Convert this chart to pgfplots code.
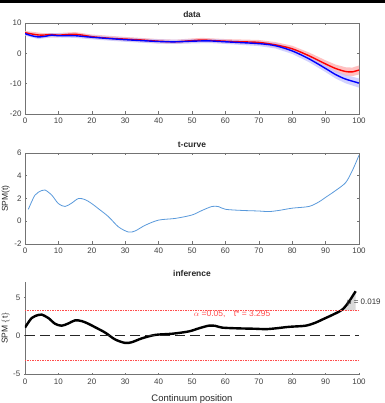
\documentclass[border=0pt]{standalone}
\usepackage{fontspec}
\setmainfont{Liberation Sans}
\usepackage{pgfplots}
\usepackage{pgfplotstable}
\pgfplotsset{compat=1.18}

\definecolor{mred}{rgb}{1,0,0}
\definecolor{mblue}{rgb}{0,0,1}
\definecolor{tblue}{rgb}{0.35,0.6,0.86}
\definecolor{thr}{rgb}{1,0.3,0.3}

\pgfplotstableread{
x m
0 6.8
3 6.2
5 6.0
8 6.2
10 6.0
15 6.3
20 5.5
25 5.0
30 4.7
35 4.4
40 4.0
45 3.8
50 4.2
53 4.4
55 4.3
60 4.0
65 3.8
70 3.6
75 2.8
80 1.5
85 -0.8
90 -3.5
93 -5.0
96 -6.0
98 -6.1
100 -5.5
}\reddata

\pgfplotstableread{
x m
0 6.5
2 5.8
4 5.4
6 5.6
8 6.0
10 5.8
15 5.8
20 5.3
30 4.5
40 3.9
45 3.8
50 4.0
55 4.1
60 3.8
70 3.2
75 2.5
80 0.8
85 -1.8
90 -5.0
93 -7.0
96 -8.5
100 -9.8
}\bluedata

% band outlines: upper edge left to right, then lower edge right to left
\pgfplotstableread{
x y
0 7.4
5 6.7
10 6.7
15 7.0
20 6.2
30 5.4
40 4.7
45 4.5
50 4.9
53 5.1
60 4.7
70 4.4
75 3.7
80 2.5
85 0.3
90 -2.3
93 -3.7
96 -4.6
98 -4.7
100 -4.0
100 -7.0
98 -7.5
96 -7.4
93 -6.3
90 -4.7
85 -1.9
80 0.5
75 1.9
70 2.8
60 3.3
53 3.7
50 3.5
45 3.1
40 3.3
30 4.0
20 4.8
15 5.6
10 5.3
5 5.3
0 6.0
}\redband

\pgfplotstableread{
x y
0 7.2
4 6.1
8 6.7
15 6.5
20 6.0
30 5.2
40 4.6
45 4.5
55 4.8
60 4.5
70 4.0
75 3.4
80 1.8
85 -0.7
90 -3.8
93 -5.7
96 -7.1
100 -8.3
100 -11.3
96 -9.9
93 -8.3
90 -6.2
85 -2.9
80 -0.2
75 1.6
70 2.4
60 3.1
55 3.4
45 3.1
40 3.2
30 3.8
20 4.6
15 5.1
8 5.3
4 4.7
0 5.8
}\blueband

\pgfplotstableread{
x t
0 1.05
2 2.3
4 2.7
5 2.75
7 2.3
9 1.55
11 1.3
13 1.6
15 2.0
17 1.9
19 1.55
21 1.1
24 0.4
27 -0.5
30 -0.95
32 -0.85
35 -0.35
39 0.1
44 0.25
49 0.55
52 0.95
55 1.3
57 1.28
59 1.05
64 0.95
69 0.9
72 0.85
75 0.95
79 1.15
84 1.3
87 1.7
89 2.1
92 2.7
95 3.4
97 4.45
99 5.8
}\tdata

\pgfplotstableread{
x y
94.35 3.295
95 3.4
96 3.88
97 4.45
98 5.12
99 5.8
99 3.295
}\shade

\pgfplotstableread{
x y
0 3.295
100 3.295
}\thrup

\pgfplotstableread{
x y
0 -3.295
100 -3.295
}\thrdown

\pgfplotsset{
  panel/.style={
    scale only axis, width=334bp, height=91bp,
    xmin=0, xmax=100, xtick={0,10,...,100},
    tick align=inside, major tick length=2.5bp,
    axis line style={black!55, line width=0.6bp},
    every tick/.append style={black!55, line width=0.6bp},
    tick label style={font=\fontsize{8}{9}\selectfont, text=black!75},
    /pgf/number format/assume math mode=true,
    title style={font=\fontsize{8.5}{10}\selectfont\bfseries, text=black!85, yshift=-4bp},
    label style={font=\fontsize{8.5}{10}\selectfont, text=black!85},
    ylabel style={at={(axis description cs:-0.058,0.5)}, anchor=center},
  }
}

\begin{document}
\begin{tikzpicture}
\path[use as bounding box] (0,0) rectangle (385bp,403bp);
\fill[black] (0,400bp) rectangle (385bp,403bp);

% Panel 1: data
\begin{axis}[panel, at={(25bp,289bp)}, anchor=south west,
  ymin=-20, ymax=10, ytick={-20,-10,0,10}, title={data}]
  \addplot[fill=red!30, draw=none, fill opacity=0.8] table[x=x,y=y]{\redband} -- cycle;
  \addplot[fill=blue!25, draw=none, fill opacity=0.7] table[x=x,y=y]{\blueband} -- cycle;
  \addplot[mred, line width=1.4bp, smooth] table[x=x,y=m]{\reddata};
  \addplot[mblue, line width=1.4bp, smooth] table[x=x,y=m]{\bluedata};
\end{axis}

% Panel 2: t-curve
\begin{axis}[panel, at={(25bp,159bp)}, anchor=south west,
  ymin=-2, ymax=6, ytick={-2,0,2,4,6}, title={t-curve}, ylabel={SPM(t)}]
  \addplot[tblue, line width=0.8bp, smooth] table[x expr=\thisrow{x}+1, y=t]{\tdata};
\end{axis}

% Panel 3: inference
\begin{axis}[panel, at={(25bp,29bp)}, anchor=south west, height=92bp,
  ymin=-5, ymax=7, ytick={-5,0,5}, title={inference},
  axis x line=bottom, axis y line=left, axis line style={-, black!55},
  ylabel={SPM $\{$t$\}$}, xlabel={Continuum position},
  xlabel style={font=\fontsize{9.5}{11}\selectfont, yshift=-3bp}]
  \addplot[fill=black!15, draw=none] table[x=x,y=y]{\shade} -- cycle;
  \addplot[color=thr, dash pattern=on 1.5bp off 1bp, line width=0.9bp] table[x=x,y=y]{\thrdown};
  \addplot[black, line width=2.4bp, smooth] table[x=x,y=t]{\tdata};
  \addplot[color=thr, dash pattern=on 1.5bp off 1bp, line width=0.9bp] table[x=x,y=y]{\thrup};
  \addplot[color=black!85, dash pattern=on 10bp off 5bp, line width=1.5bp] coordinates {(0,0) (100,0)};
  \node[font=\fontsize{8.5}{10}\selectfont, text=thr, anchor=center] at (axis cs:62,2.85) {$\alpha$ =0.05,\quad t* = 3.295};
\end{axis}
\node[font=\fontsize{8}{9}\selectfont, text=black!80, anchor=west, inner sep=1bp] at (346bp,100bp) {p = 0.019};
\end{tikzpicture}
\end{document}
